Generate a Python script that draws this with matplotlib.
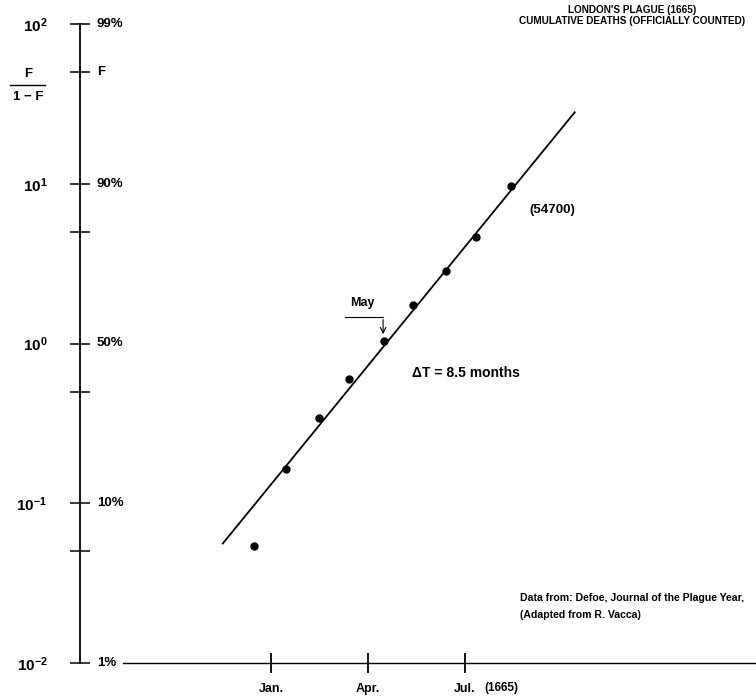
import matplotlib.pyplot as plt
import numpy as np
from matplotlib.lines import Line2D

plt.rcParams['font.family'] = ['Liberation Sans', 'DejaVu Sans']
plt.rcParams['font.weight'] = 'bold'
plt.rcParams['mathtext.fontset'] = 'custom'
plt.rcParams['mathtext.rm'] = 'Liberation Sans:bold'
plt.rcParams['mathtext.default'] = 'rm'

# months counted from Jan. 1665 = 1, F/(1-F)
months = [0.47, 1.46, 2.49, 3.41, 4.50, 5.40, 6.42, 7.34, 8.43]
ratio = [0.054, 0.165, 0.342, 0.600, 1.04, 1.74, 2.84, 4.64, 9.68]
fit_months = [-0.49, 10.4]
fit_ratio = [0.056, 28.0]

tick_months = [1, 4, 7]
tick_names = ["Jan.", "Apr.", "Jul."]
ratio_ticks = [0.01, 0.05, 0.1, 0.5, 1, 5, 10, 50, 100]
power_labels = ["$10^{-2}$", "", "$10^{-1}$", "", "$10^{0}$", "", "$10^{1}$", "", "$10^{2}$"]
pct_labels = ["1%", "", "10%", "", "50%", "", "90%", "F", "99%"]

fig = plt.figure(figsize=(7.56, 6.96), dpi=100)
ax = fig.add_axes([80 / 756, 33 / 696, 675 / 756, 639 / 696])
ax.set_yscale('log')
ax.set_ylim(0.01, 100)
ax.set_xlim(-4.91, 15.98)

for s in ['top', 'right', 'bottom']:
    ax.spines[s].set_visible(False)
ax.spines['left'].set_linewidth(1.3)

ax.yaxis.set_minor_locator(plt.NullLocator())
ax.set_yticks(ratio_ticks, power_labels)
ax.tick_params(axis='y', direction='inout', length=15, width=1.1, pad=16, labelsize=11)
ax.set_xticks(tick_months, tick_names)
ax.tick_params(axis='x', direction='inout', length=15, width=1.3, pad=7, labelsize=9)

# percentage labels right of the axis
for v, lab in zip(ratio_ticks, pct_labels):
    if lab:
        ax.text(0.025, v, lab, transform=ax.get_yaxis_transform(), ha='left', va='center', fontsize=9.5)

ax.axhline(0.01, xmin=(123 - 80) / 675, xmax=1, color='k', lw=1.0, clip_on=False)
ax.text(7.6, -0.039, "(1665)", ha='left', va='center', fontsize=8.5,
        transform=ax.get_xaxis_transform())

ax.plot(fit_months, fit_ratio, 'k-', lw=1.3)
ax.plot(months, ratio, 'ko', ms=5)

# May marker
ax.plot([3.3, 4.47], [1.47, 1.47], 'k-', lw=0.8)
ax.annotate('', xy=(4.47, 1.1), xytext=(4.47, 1.47),
            arrowprops=dict(arrowstyle='->', lw=0.8, color='k'))
ax.text(3.45, 1.79, "May", ha='left', va='center', fontsize=9)

ax.text(5.35, 0.653, "\u0394T = 8.5 months", ha='left', va='center', fontsize=10)
ax.text(9.0, 6.85, "(54700)", ha='left', va='center', fontsize=9.5)

fig.text(0.836, 1 - 5 / 696, "LONDON'S PLAGUE (1665)\nCUMULATIVE DEATHS (OFFICIALLY COUNTED)",
         ha='center', va='top', fontsize=7.2, linespacing=1.1)
fig.text(520 / 756, 1 - 598 / 696, "Data from: Defoe, Journal of the Plague Year,",
         ha='left', va='center', fontsize=7.6)
fig.text(520 / 756, 1 - 615 / 696, "(Adapted from R. Vacca)",
         ha='left', va='center', fontsize=7.6)

# F / (1-F) label
fig.text(28 / 756, 1 - 74 / 696, "F", ha='center', va='center', fontsize=9.5)
fig.add_artist(Line2D([10 / 756, 45 / 756], [1 - 85 / 696] * 2, color='k', lw=1))
fig.text(28 / 756, 1 - 97 / 696, "1 \u2212 F", ha='center', va='center', fontsize=9.5)

fig.savefig("out.png", dpi=100)
